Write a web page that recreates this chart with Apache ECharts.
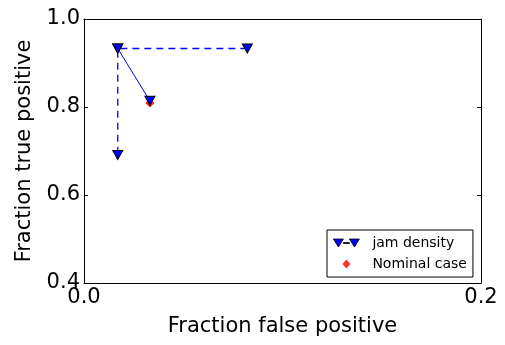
<!DOCTYPE html>
<html>
<head>
<meta charset="utf-8">
<script src="https://cdn.jsdelivr.net/npm/echarts@6/dist/echarts.min.js"></script>
<style>
  html, body { margin: 0; padding: 0; background: #fff; }
  #main { width: 505px; height: 345px; }
</style>
</head>
<body>
<div id="main"></div>
<script>
// data
var jamDashed = [[0.0823, 0.933], [0.017, 0.933], [0.017, 0.691]]
var jamSolid = [[0.017, 0.933], [0.0332, 0.814]]
var nominal = [[0.0332, 0.809]]
var xTicks = [0.0, 0.2]
var yTicks = [0.4, 0.6, 0.8, 1.0]

var font = 'DejaVu Sans'
var myChart = echarts.init(document.getElementById('main'))

function fmt(v) { return v.toFixed(1) }

var tickStyle = { show: true, inside: true, length: 4, lineStyle: { color: '#000', width: 1 } }
var lineStyle = { show: true, onZero: false, lineStyle: { color: '#000', width: 1 } }

// legend icons: two down triangles joined by a dash, and a small diamond in the middle
var jamIcon = 'path://M0,0 L10,0 L5,8 Z M16,0 L26,0 L21,8 Z M10,3.5 L16,3.5 L16,4.5 L10,4.5 Z'
var diamondIcon = 'path://M0,4.5 L26,4.5 M13,0 L17,4.5 L13,9 L9,4.5 Z'

var options = {
  animation: false,
  textStyle: { fontFamily: font },
  grid: { left: 84, right: 24, top: 19, bottom: 62, outerBoundsMode: 'none', containLabel: false },
  xAxis: [
    {
      type: 'value',
      min: xTicks[0],
      max: xTicks[xTicks.length - 1],
      interval: 0.2,
      name: 'Fraction false positive',
      nameLocation: 'middle',
      nameGap: 33,
      nameTextStyle: { fontSize: 21, color: '#000', fontFamily: font },
      axisLine: lineStyle,
      axisTick: tickStyle,
      splitLine: { show: false },
      axisLabel: { fontSize: 21, color: '#000', margin: 4, fontFamily: font, formatter: fmt }
    },
    {
      type: 'value', position: 'top',
      min: xTicks[0], max: xTicks[xTicks.length - 1], interval: 0.2,
      axisLine: lineStyle, axisTick: tickStyle,
      splitLine: { show: false }, axisLabel: { show: false }
    }
  ],
  yAxis: [
    {
      type: 'value',
      min: yTicks[0],
      max: yTicks[yTicks.length - 1],
      interval: 0.2,
      name: 'Fraction true positive',
      nameLocation: 'middle',
      nameGap: 49,
      nameTextStyle: { fontSize: 21, color: '#000', fontFamily: font },
      axisLine: lineStyle,
      axisTick: tickStyle,
      splitLine: { show: false },
      axisLabel: { fontSize: 21, color: '#000', margin: 4, fontFamily: font, formatter: fmt }
    },
    {
      type: 'value', position: 'right',
      min: yTicks[0], max: yTicks[yTicks.length - 1], interval: 0.2,
      axisLine: lineStyle, axisTick: tickStyle,
      splitLine: { show: false }, axisLabel: { show: false }
    }
  ],
  legend: {
    data: [
      { name: 'jam density', icon: jamIcon, itemStyle: { color: '#0000ff', borderColor: '#000', borderWidth: 0.8 } },
      { name: 'Nominal case', icon: diamondIcon, itemStyle: { color: '#ff0000', borderWidth: 0 } }
    ],
    orient: 'vertical',
    left: 327,
    top: 230,
    padding: [6, 6, 6, 6],
    itemGap: 7,
    itemWidth: 26,
    itemHeight: 9,
    borderColor: '#000',
    borderWidth: 1,
    borderRadius: 0,
    backgroundColor: '#fff',
    textStyle: { fontSize: 14, color: '#000', fontFamily: font, padding: [0, 0, 0, 8] }
  },
  series: [
    {
      name: 'Nominal case',
      type: 'scatter',
      data: nominal,
      symbol: 'diamond',
      symbolSize: 8,
      itemStyle: { color: '#ff0000', borderColor: '#ff0000' },
      z: 1
    },
    {
      name: 'jam density',
      type: 'line',
      data: jamDashed,
      symbol: 'triangle',
      symbolRotate: 180,
      symbolSize: [10, 9],
      showSymbol: true,
      lineStyle: { color: '#0000ff', width: 1.3, type: [7, 5] },
      itemStyle: { color: '#0000ff', borderColor: '#000', borderWidth: 1 },
      z: 3
    },
    {
      name: 'jam density solid',
      type: 'line',
      data: jamSolid,
      symbol: 'triangle',
      symbolRotate: 180,
      symbolSize: [10, 9],
      lineStyle: { color: '#0000ff', width: 1 },
      itemStyle: { color: '#0000ff', borderColor: '#000', borderWidth: 1 },
      z: 3
    }
  ]
}

myChart.setOption(options)
</script>
</body>
</html>
